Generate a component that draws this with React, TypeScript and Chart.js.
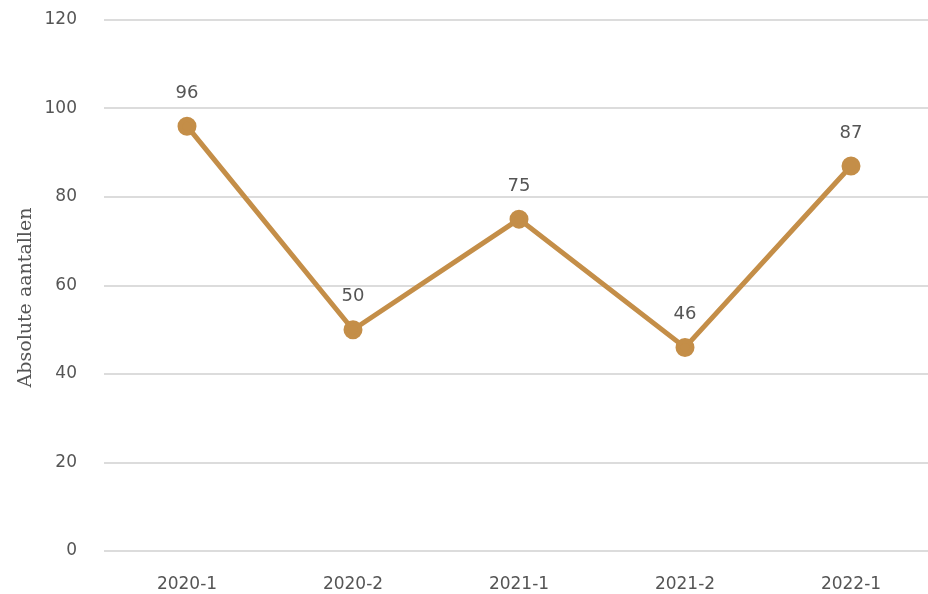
import React, { useEffect, useRef } from "react";
import { Chart, registerables } from "chart.js";

Chart.register(...registerables);

const categories = ["2020-1", "2020-2", "2021-1", "2021-2", "2022-1"];
const values = [96, 50, 75, 46, 87];
const yTicks = [0, 20, 40, 60, 80, 100, 120];
const yTitle = "Absolute aantallen";

const labelPlugin = {
  id: "pointLabels",
  afterDatasetsDraw(chart: any) {
    const ctx = chart.ctx;
    const meta = chart.getDatasetMeta(0);
    ctx.save();
    ctx.fillStyle = "#555555";
    ctx.font = "18px 'DejaVu Sans'";
    ctx.textAlign = "center";
    ctx.textBaseline = "middle";
    meta.data.forEach((pt: any, i: number) => {
      ctx.fillText(String(values[i]), pt.x, pt.y - 33);
    });
    ctx.restore();
    // y axis title
    ctx.save();
    ctx.fillStyle = "#555555";
    ctx.font = "19px 'DejaVu Serif'";
    ctx.textAlign = "center";
    ctx.textBaseline = "alphabetic";
    const a = chart.chartArea;
    ctx.translate(23, (a.top + a.bottom) / 2 + 12);
    ctx.rotate(-Math.PI / 2);
    ctx.fillText(yTitle, 0, 0);
    ctx.restore();
  },
};

export default function App() {
  const ref = useRef<HTMLCanvasElement | null>(null);
  useEffect(() => {
    if (!ref.current) return;
    const chart = new Chart(ref.current, {
      type: "line",
      data: {
        labels: categories,
        datasets: [
          {
            data: values,
            borderColor: "#C48E48",
            backgroundColor: "#C48E48",
            borderWidth: 5,
            pointRadius: 7,
            pointHoverRadius: 7,
            tension: 0,
          },
        ],
      },
      options: {
        responsive: false,
        animation: false,
        layout: { padding: { top: 12, right: 0, bottom: 0, left: 0 } },
        plugins: { legend: { display: false }, tooltip: { enabled: false } },
        scales: {
          x: {
            offset: true,
            afterFit: (scale: any) => {
              scale.height = 43;
            },
            grid: { display: false, drawTicks: false },
            border: { display: false },
            ticks: { color: "#555555", font: { family: "DejaVu Sans", size: 17 }, padding: 23 },
          },
          y: {
            min: 0,
            max: 120,
            afterBuildTicks: (scale: any) => {
              scale.ticks = yTicks.map((v) => ({ value: v }));
            },
            afterFit: (scale: any) => {
              scale.width = 96;
            },
            grid: {
              color: "#dcdcdc",
              lineWidth: 2,
              drawTicks: true,
              tickLength: 27,
              tickColor: "rgba(0,0,0,0)",
            },
            border: { display: false },
            ticks: { color: "#555555", font: { family: "DejaVu Sans", size: 17 }, padding: 0 },
          },
        },
      },
      plugins: [labelPlugin],
    });
    return () => chart.destroy();
  }, []);
  return (
    <div
      style={{
        position: "absolute",
        left: 8,
        top: 8,
        width: 920,
        height: 586,
        overflow: "hidden",
      }}
    >
      <canvas ref={ref} width={938} height={586} style={{ display: "block" }} />
    </div>
  );
}
